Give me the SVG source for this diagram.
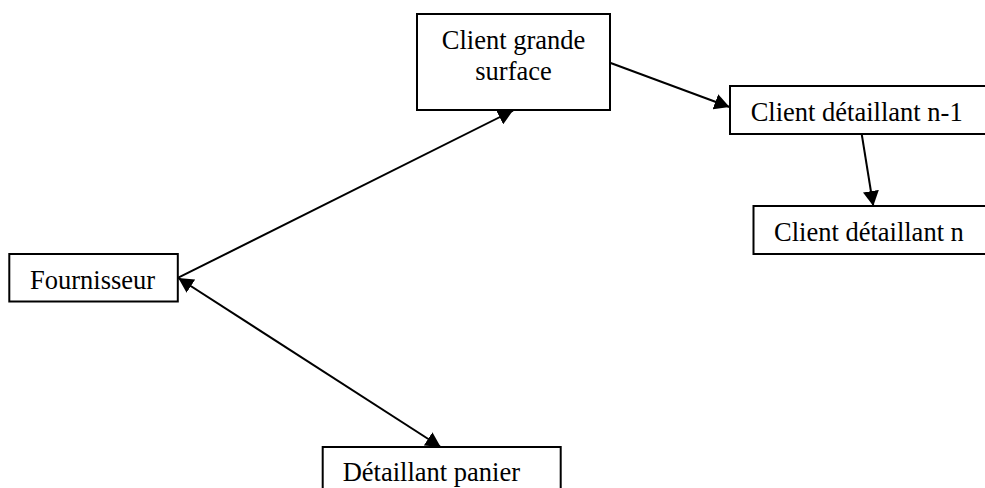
<svg xmlns="http://www.w3.org/2000/svg" width="985" height="488" viewBox="0 0 985 488">
<style>
.box{fill:#fff;stroke:#000;stroke-width:2}
.lbl{font-family:"Liberation Serif","Times New Roman",serif;font-size:26.5px;fill:#000}
.con{fill:none;stroke:#000;stroke-width:2}
</style>
<defs>
<marker id="ah" markerUnits="userSpaceOnUse" markerWidth="15" markerHeight="16" viewBox="0 0 15 16" refX="15" refY="8" orient="auto-start-reverse">
<path d="M0,0 L15,8 L0,16 z" fill="#000"/>
</marker>
</defs>
<rect width="985" height="488" fill="#fff"/>
<g id="connectors">
<line class="con" x1="178.3" y1="277.7" x2="513" y2="110.5" marker-end="url(#ah)"/>
<line class="con" x1="178.3" y1="278" x2="440.7" y2="447" marker-start="url(#ah)" marker-end="url(#ah)"/>
<line class="con" x1="610" y1="62.7" x2="729.5" y2="107" marker-end="url(#ah)"/>
<line class="con" x1="861.7" y1="134" x2="873.3" y2="206" marker-end="url(#ah)"/>
</g>
<g id="client-grande-surface">
<rect class="box" x="417" y="14" width="193" height="96"/>
<text class="lbl" x="513.5" y="49.3" text-anchor="middle">Client grande</text>
<text class="lbl" x="513.5" y="80" text-anchor="middle">surface</text>
</g>
<g id="client-detaillant-n-1">
<rect class="box" x="730" y="86" width="270" height="48"/>
<text class="lbl" x="750.7" y="120.7">Client détaillant n-1</text>
</g>
<g id="client-detaillant-n">
<rect class="box" x="753.5" y="206" width="250" height="48"/>
<text class="lbl" x="774" y="240.7">Client détaillant n</text>
</g>
<g id="fournisseur">
<rect class="box" x="9.3" y="254" width="168.5" height="47.5"/>
<text class="lbl" x="30" y="289">Fournisseur</text>
</g>
<g id="detaillant-panier">
<rect class="box" x="322.7" y="447" width="238" height="60"/>
<text class="lbl" x="342.7" y="480.7">Détaillant panier</text>
</g>
</svg>
